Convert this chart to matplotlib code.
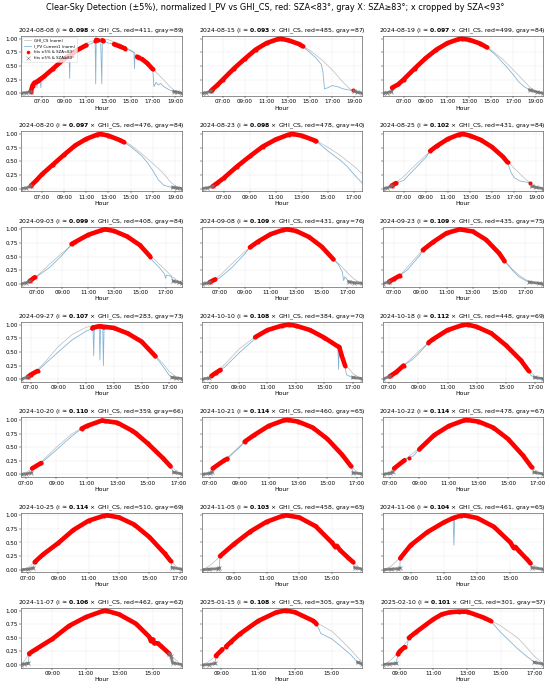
import numpy as np
import matplotlib
matplotlib.use("Agg")
import matplotlib.pyplot as plt
from matplotlib.lines import Line2D
from matplotlib.ticker import MultipleLocator, FuncFormatter, FormatStrFormatter

# one entry per panel
DATES = ["2024-08-08", "2024-08-15", "2024-08-19",
         "2024-08-20", "2024-08-23", "2024-08-25",
         "2024-09-03", "2024-09-08", "2024-09-23",
         "2024-09-27", "2024-10-10", "2024-10-18",
         "2024-10-20", "2024-10-21", "2024-10-22",
         "2024-10-25", "2024-11-05", "2024-11-06",
         "2024-11-07", "2025-01-15", "2025-02-10"]
SLOPES = [0.098, 0.093, 0.097, 0.097, 0.098, 0.102, 0.099, 0.109, 0.109,
          0.107, 0.108, 0.112, 0.110, 0.114, 0.114, 0.114, 0.103, 0.104,
          0.106, 0.108, 0.101]
RED_N = [411, 485, 499, 476, 478, 431, 408, 431, 435, 283, 384, 448,
         359, 460, 478, 510, 458, 461, 462, 305, 301]
GRAY_N = [89, 87, 84, 84, 40, 84, 84, 76, 75, 73, 70, 69, 66, 65, 67,
          69, 65, 65, 62, 53, 57]

# hour range of each panel
XLIMS = [(5.15, 19.6), (5.1, 19.75), (5.1, 19.7),
         (5.15, 19.6), (5.34, 17.64), (5.1, 19.6),
         (5.82, 18.23), (5.67, 18.15), (6.15, 18.32),
         (6.34, 17.89), (6.41, 17.66), (6.57, 17.52),
         (6.7, 17.23), (6.48, 17.36), (6.53, 17.35),
         (6.58, 17.12), (7.05, 16.86), (7.32, 16.95),
         (7.14, 16.74), (7.95, 16.65), (8.0, 17.5)]

# normalized clear-sky GHI, (hour, value)
GHI = [
    [(5.15, 0.0), (5.6, 0.02), (6.0, 0.08), (6.5, 0.17), (7, 0.27), (8, 0.47), (9, 0.65), (10, 0.8), (11, 0.92), (12, 0.99),
     (12.4, 1.0), (13, 0.98), (14, 0.91), (15, 0.79), (16, 0.63), (17, 0.45), (18, 0.24), (18.5, 0.13), (19, 0.04), (19.6, 0.0)],
    [(5.1, 0.0), (5.5, 0.01), (5.9, 0.05), (6.5, 0.15), (7, 0.25), (8, 0.45), (9, 0.63), (10, 0.8), (11, 0.92), (12, 0.99),
     (12.3, 1.0), (13, 0.97), (14, 0.9), (15, 0.78), (16, 0.62), (17, 0.43), (18, 0.2), (18.5, 0.1), (18.9, 0.05), (19.3, 0.02), (19.75, 0.0)],
    [(5.1, 0.0), (5.5, 0.01), (5.9, 0.05), (6.5, 0.16), (7, 0.25), (8, 0.45), (9, 0.64), (10, 0.8), (11, 0.92), (12, 0.99),
     (12.3, 1.0), (13, 0.98), (14, 0.91), (15, 0.79), (16, 0.63), (17, 0.43), (18, 0.22), (18.5, 0.11), (19, 0.04), (19.7, 0.0)],
    [(5.15, 0.0), (5.6, 0.02), (6.0, 0.06), (6.5, 0.15), (7, 0.26), (8, 0.45), (9, 0.63), (10, 0.8), (11, 0.92), (12, 0.99),
     (12.3, 1.0), (13, 0.98), (14, 0.91), (15, 0.8), (16, 0.64), (17, 0.46), (18, 0.27), (18.5, 0.14), (19, 0.05), (19.6, 0.0)],
    [(5.34, 0.0), (5.7, 0.01), (6.15, 0.05), (6.5, 0.1), (7, 0.19), (8, 0.4), (9, 0.59), (10, 0.77), (11, 0.9), (12, 0.99),
     (12.3, 1.0), (13, 0.97), (14, 0.89), (15, 0.76), (16, 0.6), (17, 0.41), (17.64, 0.27)],
    [(5.1, 0.0), (5.5, 0.01), (5.9, 0.05), (6.3, 0.11), (7, 0.22), (8, 0.42), (9, 0.61), (10, 0.78), (11, 0.91), (12, 0.99),
     (12.4, 1.0), (13, 0.98), (14, 0.9), (15, 0.77), (16, 0.59), (16.4, 0.5), (17, 0.37), (18, 0.18), (18.4, 0.11), (19, 0.03), (19.6, 0.0)],
    [(5.82, 0.0), (6.2, 0.02), (6.45, 0.05), (7, 0.14), (8, 0.36), (9, 0.57), (10, 0.76), (11, 0.9), (12, 0.98), (12.3, 1.0),
     (13, 0.97), (14, 0.87), (15, 0.71), (15.8, 0.52), (16.5, 0.36), (17, 0.25), (17.5, 0.13), (18, 0.04), (18.23, 0.0)],
    [(5.67, 0.0), (6.0, 0.01), (6.27, 0.04), (6.67, 0.09), (7, 0.14), (8, 0.37), (9, 0.59), (10, 0.77), (11, 0.91), (12, 0.99),
     (12.3, 1.0), (13, 0.97), (14, 0.86), (15, 0.68), (15.9, 0.46), (16.5, 0.33), (17, 0.2), (17.5, 0.09), (18, 0.02), (18.15, 0.0)],
    [(6.15, 0.0), (6.6, 0.03), (7, 0.09), (7.5, 0.17), (8, 0.3), (9, 0.57), (10, 0.78), (11, 0.93), (12, 1.0), (13, 0.96),
     (14, 0.81), (15, 0.56), (15.4, 0.43), (16, 0.27), (16.5, 0.16), (17, 0.08), (17.5, 0.03), (18, 0.01), (18.32, 0.0)],
    [(6.34, 0.0), (6.8, 0.04), (7, 0.08), (7.5, 0.17), (8, 0.3), (9, 0.6), (10, 0.82), (11, 0.95), (11.8, 1.0), (12.5, 0.99),
     (13, 0.96), (14, 0.85), (15, 0.68), (16, 0.43), (16.5, 0.3), (17, 0.14), (17.5, 0.04), (17.89, 0.0)],
    [(6.41, 0.0), (6.9, 0.03), (7.07, 0.07), (7.5, 0.15), (8, 0.27), (9, 0.55), (10, 0.75), (11, 0.91), (12, 0.99), (12.5, 1.0),
     (13, 0.98), (14, 0.9), (15, 0.76), (16, 0.59), (16.45, 0.28), (17, 0.1), (17.66, 0.0)],
    [(6.57, 0.0), (7.05, 0.05), (7.5, 0.13), (8, 0.25), (9, 0.5), (9.7, 0.67), (10, 0.73), (11, 0.9), (12, 0.99), (12.4, 1.0),
     (13, 0.96), (14, 0.84), (15, 0.62), (16, 0.35), (16.55, 0.16), (17, 0.05), (17.52, 0.0)],
    [(6.7, 0.0), (7.0, 0.03), (7.4, 0.11), (8, 0.23), (9, 0.5), (10, 0.74), (10.65, 0.85), (11, 0.9), (12, 0.99), (12.2, 1.0),
     (13, 0.95), (14, 0.81), (15, 0.58), (16, 0.3), (16.5, 0.15), (17, 0.04), (17.23, 0.0)],
    [(6.48, 0.0), (7.0, 0.04), (7.2, 0.1), (8, 0.26), (9, 0.51), (9.37, 0.6), (10, 0.72), (11, 0.89), (12, 0.99), (12.3, 1.0),
     (13, 0.97), (14, 0.86), (15, 0.65), (16, 0.36), (16.6, 0.15), (17, 0.05), (17.36, 0.0)],
    [(6.53, 0.0), (7.0, 0.04), (7.3, 0.11), (8, 0.27), (9, 0.48), (10, 0.72), (11, 0.89), (12, 0.99), (12.2, 1.0), (13, 0.97),
     (14, 0.86), (15, 0.65), (16, 0.35), (16.6, 0.13), (17, 0.04), (17.35, 0.0)],
    [(6.58, 0.0), (7.0, 0.03), (7.47, 0.15), (8, 0.28), (9, 0.5), (10, 0.74), (11, 0.9), (12, 0.99), (12.2, 1.0), (13, 0.96),
     (14, 0.83), (15, 0.6), (16, 0.3), (16.4, 0.16), (16.8, 0.05), (17.12, 0.0)],
    [(7.05, 0.0), (7.5, 0.07), (8.0, 0.2), (8.15, 0.25), (9, 0.47), (10, 0.7), (11, 0.88), (12, 0.99), (12.2, 1.0), (13, 0.96),
     (14, 0.8), (15, 0.5), (15.5, 0.36), (16, 0.22), (16.3, 0.14), (16.86, 0.0)],
    [(7.32, 0.0), (7.8, 0.06), (8.37, 0.22), (9, 0.45), (10, 0.69), (11, 0.87), (11.6, 0.96), (12, 0.99), (12.2, 1.0), (13, 0.95),
     (14, 0.79), (15, 0.5), (15.5, 0.35), (16, 0.19), (16.3, 0.1), (16.95, 0.0)],
    [(7.14, 0.01), (7.3, 0.07), (7.6, 0.21), (8, 0.3), (9, 0.49), (10, 0.72), (11, 0.88), (12, 0.99), (12.2, 1.0), (13, 0.93),
     (14, 0.76), (15, 0.5), (15.5, 0.36), (16, 0.21), (16.3, 0.12), (16.74, 0.0)],
    [(7.95, 0.0), (8.3, 0.06), (8.7, 0.17), (9, 0.27), (9.5, 0.41), (10, 0.56), (11, 0.81), (12, 0.97), (12.5, 1.0), (13, 0.97),
     (14, 0.81), (15, 0.62), (15.5, 0.46), (16, 0.29), (16.4, 0.14), (16.65, 0.05)],
    [(8.0, 0.0), (8.4, 0.07), (8.9, 0.22), (9.3, 0.38), (9.55, 0.48), (10, 0.6), (11, 0.84), (12, 0.97), (12.5, 1.0), (13, 0.98),
     (14, 0.88), (14.4, 0.82), (15, 0.72), (16, 0.5), (16.5, 0.34), (17, 0.16), (17.5, 0.03)],
]

# normalized I_PV Current1, (hour, value)
IPV = [
    [(5.15, 0.0), (5.6, 0.01), (6.0, 0.03), (6.15, 0.14), (6.3, 0.19), (6.5, 0.21), (6.55, 0.1), (6.6, 0.22), (6.85, 0.26),
     (6.9, 0.1), (6.95, 0.27), (7.2, 0.31), (8, 0.45), (9, 0.63), (9.45, 0.69), (9.5, 0.27), (9.55, 0.69), (10, 0.77),
     (11, 0.88), (11.5, 0.91), (11.8, 0.96), (11.85, 0.17), (11.9, 0.98), (12.05, 0.97), (12.3, 0.95), (12.4, 0.17),
     (12.45, 0.97), (12.55, 0.96), (13, 0.92), (13.5, 0.9), (14, 0.86), (14.5, 0.82), (15, 0.78), (15.3, 0.75),
     (15.35, 0.45), (15.4, 0.7), (15.6, 0.67), (15.8, 0.65), (16.0, 0.63), (16.5, 0.55), (17.0, 0.44), (17.1, 0.12),
     (17.3, 0.2), (17.5, 0.15), (17.7, 0.18), (18, 0.12), (18.5, 0.06), (18.9, 0.03), (19.2, 0.02), (19.6, 0.0)],
    [(5.1, 0.0), (5.5, 0.01), (5.9, 0.04), (6.0, 0.06), (6.5, 0.15), (7, 0.25), (8, 0.45), (9, 0.63), (10, 0.8), (11, 0.92),
     (12, 0.99), (12.3, 1.0), (13, 0.97), (14, 0.9), (14.3, 0.86), (15, 0.74), (15.5, 0.65), (16, 0.53), (16.15, 0.4),
     (16.3, 0.08), (16.6, 0.1), (17, 0.14), (17.5, 0.12), (18, 0.08), (18.5, 0.06), (18.9, 0.05), (19.0, 0.04),
     (19.3, 0.02), (19.75, 0.0)],
    [(5.1, 0.0), (5.5, 0.01), (5.9, 0.03), (5.95, 0.1), (6.5, 0.16), (7, 0.25), (8, 0.45), (9, 0.64), (10, 0.8), (11, 0.92),
     (12, 0.99), (12.3, 1.0), (13, 0.98), (14, 0.91), (14.6, 0.84), (15, 0.77), (15.5, 0.68), (16, 0.57), (16.5, 0.46),
     (17, 0.34), (17.5, 0.21), (18, 0.12), (18.5, 0.06), (19.2, 0.02), (19.7, 0.0)],
    [(5.15, 0.0), (5.6, 0.01), (6.0, 0.05), (6.5, 0.15), (7, 0.26), (8, 0.44), (9, 0.62), (10, 0.79), (11, 0.91), (12, 0.99),
     (12.3, 1.0), (13, 0.97), (14, 0.89), (14.4, 0.85), (15, 0.77), (16, 0.6), (16.5, 0.48), (17, 0.33), (17.5, 0.16),
     (18, 0.06), (18.5, 0.03), (18.8, 0.02), (19.2, 0.01), (19.6, 0.0)],
    [(5.34, 0.0), (5.7, 0.01), (6.15, 0.04), (6.5, 0.1), (7, 0.19), (8, 0.4), (9, 0.59), (10, 0.77), (11, 0.9), (12, 0.99),
     (12.3, 1.0), (13, 0.97), (14, 0.88), (14.1, 0.87), (15, 0.69), (16, 0.51), (16.5, 0.4), (17, 0.26), (17.64, 0.1)],
    [(5.1, 0.0), (5.5, 0.01), (5.9, 0.05), (6.3, 0.1), (7, 0.15), (8, 0.36), (9, 0.57), (9.4, 0.69), (10, 0.78), (11, 0.91),
     (12, 0.99), (12.4, 1.0), (13, 0.97), (14, 0.89), (15, 0.76), (16, 0.58), (16.4, 0.48), (16.7, 0.3), (17, 0.2),
     (17.5, 0.14), (18, 0.12), (18.4, 0.11), (18.6, 0.04), (19, 0.02), (19.6, 0.0)],
    [(5.82, 0.0), (6.2, 0.02), (6.45, 0.05), (6.85, 0.12), (7, 0.13), (8, 0.3), (9, 0.53), (9.7, 0.73), (10, 0.77), (11, 0.9),
     (12, 0.98), (12.3, 1.0), (13, 0.97), (14, 0.87), (15, 0.71), (15.8, 0.5), (16.0, 0.42), (16.5, 0.3), (16.9, 0.18),
     (17.0, 0.1), (17.05, 0.16), (17.4, 0.14), (17.6, 0.05), (18, 0.03), (18.23, 0.01)],
    [(5.67, 0.0), (6.0, 0.01), (6.27, 0.03), (6.67, 0.08), (7, 0.1), (8, 0.3), (9, 0.55), (9.4, 0.67), (10, 0.77), (11, 0.91),
     (12, 0.99), (12.3, 1.0), (13, 0.97), (14, 0.86), (15, 0.68), (15.9, 0.45), (16.3, 0.35), (16.6, 0.22), (16.7, 0.06),
     (16.8, 0.13), (16.9, 0.1), (17.1, 0.04), (17.5, 0.02), (18.15, 0.01)],
    [(6.15, 0.0), (6.63, 0.04), (7, 0.09), (7.45, 0.15), (8, 0.25), (9, 0.53), (9.2, 0.62), (10, 0.77), (11, 0.93), (12, 1.0),
     (13, 0.96), (14, 0.81), (15, 0.56), (15.4, 0.42), (16, 0.25), (16.5, 0.13), (17, 0.06), (17.3, 0.03), (18, 0.01), (18.32, 0.0)],
    [(6.34, 0.0), (6.8, 0.04), (7.0, 0.08), (7.5, 0.15), (8, 0.27), (9, 0.5), (10, 0.72), (11, 0.88), (11.45, 0.93),
     (11.5, 0.95), (11.55, 0.43), (11.6, 0.95), (11.95, 0.97), (12.0, 0.35), (12.05, 0.97), (12.2, 0.96), (12.25, 0.25),
     (12.3, 0.96), (13, 0.94), (14, 0.84), (15, 0.69), (16, 0.42), (16.5, 0.25), (17, 0.07), (17.2, 0.03), (17.5, 0.02), (17.89, 0.01)],
    [(6.41, 0.0), (6.9, 0.02), (7.07, 0.06), (7.4, 0.12), (7.7, 0.17), (8, 0.22), (9, 0.48), (10, 0.71), (10.14, 0.77),
     (11, 0.9), (12, 0.98), (12.5, 1.0), (13, 0.98), (14, 0.9), (15, 0.76), (15.95, 0.6), (16.0, 0.18), (16.05, 0.59),
     (16.2, 0.45), (16.45, 0.25), (16.55, 0.08), (16.8, 0.05), (17.0, 0.03), (17.66, 0.01)],
    [(6.57, 0.0), (7.05, 0.05), (7.5, 0.13), (8, 0.25), (8.5, 0.34), (9, 0.46), (9.7, 0.67), (10, 0.73), (11, 0.9), (12, 0.99),
     (12.4, 1.0), (13, 0.96), (14, 0.84), (15, 0.62), (16, 0.35), (16.55, 0.15), (16.7, 0.07), (16.95, 0.03), (17.52, 0.01)],
    [(6.7, 0.0), (7.0, 0.01), (7.35, 0.03), (7.4, 0.11), (8, 0.21), (9, 0.45), (10, 0.7), (10.65, 0.84), (11, 0.89), (12, 0.99),
     (12.2, 0.98), (13, 0.95), (14, 0.8), (14.2, 0.76), (15, 0.57), (16, 0.3), (16.5, 0.15), (16.7, 0.04), (17.23, 0.01)],
    [(6.48, 0.0), (7.0, 0.02), (7.15, 0.04), (7.2, 0.11), (8, 0.26), (8.2, 0.29), (9, 0.49), (9.37, 0.6), (10, 0.72), (11, 0.89),
     (12, 0.99), (12.3, 1.0), (13, 0.97), (14, 0.86), (15, 0.65), (16, 0.36), (16.6, 0.15), (16.75, 0.03), (17.36, 0.01)],
    [(6.53, 0.0), (7.0, 0.02), (7.2, 0.04), (7.3, 0.11), (8, 0.26), (8.3, 0.31), (8.6, 0.34), (9, 0.46), (10, 0.72), (11, 0.89),
     (12, 0.99), (12.2, 1.0), (13, 0.97), (14, 0.86), (15, 0.65), (16, 0.35), (16.6, 0.13), (16.75, 0.04), (17.35, 0.01)],
    [(6.58, 0.0), (7.0, 0.01), (7.35, 0.03), (7.45, 0.14), (8, 0.28), (9, 0.49), (10, 0.73), (11, 0.9), (12, 0.99), (12.2, 1.0),
     (13, 0.96), (14, 0.83), (15, 0.6), (16, 0.3), (16.4, 0.16), (16.5, 0.04), (17.12, 0.01)],
    [(7.05, 0.0), (7.5, 0.01), (8.0, 0.02), (8.1, 0.03), (8.15, 0.25), (9, 0.47), (10, 0.7), (11, 0.88), (12, 0.99), (12.2, 1.0),
     (13, 0.96), (14, 0.8), (15, 0.5), (15.2, 0.42), (15.3, 0.44), (15.5, 0.36), (16, 0.22), (16.3, 0.14), (16.4, 0.04), (16.86, 0.01)],
    [(7.32, 0.0), (7.8, 0.01), (8.26, 0.02), (8.35, 0.03), (8.37, 0.21), (9, 0.45), (10, 0.69), (11, 0.87), (11.55, 0.95),
     (11.6, 0.45), (11.65, 0.96), (12, 0.99), (12.2, 1.0), (13, 0.95), (14, 0.79), (15, 0.5), (15.2, 0.4), (15.3, 0.42),
     (15.5, 0.35), (16, 0.19), (16.2, 0.12), (16.3, 0.04), (16.95, 0.01)],
    [(7.14, 0.01), (7.3, 0.02), (7.55, 0.03), (7.6, 0.21), (8, 0.29), (9, 0.48), (10, 0.72), (11, 0.88), (12, 0.99), (12.2, 1.0),
     (13, 0.93), (14, 0.76), (14.8, 0.52), (14.9, 0.44), (15.0, 0.47), (15.1, 0.4), (15.3, 0.4), (15.5, 0.35), (16, 0.21),
     (16.1, 0.17), (16.2, 0.04), (16.74, 0.01)],
    [(7.95, 0.0), (8.3, 0.01), (8.65, 0.03), (8.7, 0.17), (9, 0.27), (9.05, 0.29), (9.25, 0.34), (9.5, 0.42), (10, 0.57),
     (11, 0.81), (12, 0.97), (12.5, 1.0), (13, 0.97), (14, 0.81), (14.16, 0.76), (14.4, 0.58), (15, 0.48), (15.5, 0.34),
     (16, 0.2), (16.4, 0.05), (16.65, 0.02)],
    [(8.0, 0.01), (8.4, 0.02), (8.8, 0.03), (8.9, 0.2), (9.0, 0.25), (9.3, 0.33), (9.45, 0.35), (9.55, 0.5), (10, 0.61),
     (11, 0.84), (11.5, 0.93), (12, 0.97), (12.5, 0.98), (13, 0.98), (14, 0.87), (14.4, 0.81), (15, 0.6), (15.5, 0.45),
     (16, 0.3), (16.5, 0.17), (17, 0.05), (17.5, 0.02)],
]

# hour spans where I_PV fits GHI_CS within 5% and SZA<83
RED_SPANS = [
    [(6.0, 6.5), (6.6, 6.85), (6.95, 9.45), (9.55, 11.2), (11.8, 11.8), (11.9, 12.05), (12.45, 12.55),
     (13.4, 14.7), (15.5, 15.8), (16.0, 17.0)],
    [(5.9, 14.3), (18.9, 18.9)],
    [(5.95, 14.6)],
    [(6.0, 14.4)],
    [(6.15, 14.1)],
    [(5.9, 6.3), (9.4, 16.4), (18.4, 18.4)],
    [(6.45, 6.85), (9.7, 15.8)],
    [(6.27, 6.67), (9.4, 15.9)],
    [(6.63, 7.45), (9.2, 15.4)],
    [(6.8, 7.5), (11.45, 11.5), (11.6, 11.95), (12.05, 12.2), (12.3, 16.0)],
    [(7.07, 7.7), (10.14, 15.95), (16.05, 16.45)],
    [(7.05, 8.0), (9.7, 16.55)],
    [(7.4, 8.0), (10.65, 16.5)],
    [(7.2, 8.2), (9.37, 16.6)],
    [(7.3, 8.0), (8.3, 8.3), (9.0, 16.6)],
    [(7.45, 16.4)],
    [(8.15, 16.3)],
    [(8.37, 11.55), (11.65, 16.2)],
    [(7.6, 16.0)],
    [(8.7, 9.05), (9.25, 14.16)],
    [(8.9, 9.3), (9.55, 14.4)],
]

# SZA>=83: points before the first hour and after the second
GRAY_EDGES = [(6.0, 18.9), (5.9, 19.0), (5.9, 18.5), (6.0, 18.8), (6.15, 99),
              (5.9, 18.6), (6.45, 17.6), (6.27, 17.1), (6.63, 17.3), (6.8, 17.2),
              (6.9, 17.0), (7.05, 16.95), (7.35, 16.7), (7.15, 16.75), (7.2, 16.75),
              (7.35, 16.5), (8.1, 16.4), (8.35, 16.3), (7.55, 16.0), (8.65, 16.4),
              (8.8, 17.0)]

fig, axes = plt.subplots(7, 3, figsize=(15, 18.873), sharey=True)
fig.subplots_adjust(left=0.039, right=0.987, top=0.948, bottom=0.035,
                    wspace=0.128, hspace=0.59)

for i, ax in enumerate(axes.flat):
    gt, gv = np.array(GHI[i]).T
    pt, pv = np.array(IPV[i]).T
    ax.plot(gt, gv, color="0.72", lw=1.3, zorder=2)
    ax.plot(pt, pv, color="tab:blue", alpha=0.55, lw=1.6, zorder=3)

    for t0, t1 in RED_SPANS[i]:
        m = (pt >= t0 - 1e-6) & (pt <= t1 + 1e-6)
        ax.plot(pt[m], pv[m], color="red", lw=9, marker="o", ms=8,
                mew=0, solid_capstyle="round", zorder=4)

    left, right = GRAY_EDGES[i]
    for m in (pt <= left + 1e-6, pt >= right - 1e-6):
        if m.sum() > 0:
            ax.plot(pt[m], pv[m], color="0.45", lw=5.5, alpha=0.85,
                    marker="x", ms=7, mew=1.5, zorder=5)

    ax.set_xlim(*XLIMS[i])
    ax.set_ylim(-0.05, 1.05)
    ax.xaxis.set_major_locator(MultipleLocator(2, offset=1))
    ax.xaxis.set_major_formatter(FuncFormatter(lambda h, _: f"{int(round(h)):02d}:00"))
    ax.set_yticks([0, 0.25, 0.5, 0.75, 1.0])
    ax.yaxis.set_major_formatter(FormatStrFormatter("%.2f"))
    ax.tick_params(labelsize=11)
    for sp in ax.spines.values():
        sp.set_linewidth(1.2)
        sp.set_color("0.3")
    ax.grid(True, alpha=0.3)
    ax.set_xlabel("Hour", fontsize=12, labelpad=2)
    ax.set_title(f"{DATES[i]} (i \u2248 $\\mathbf{{{SLOPES[i]:.3f}}}$ \u00d7 GHI_CS, "
                 f"red={RED_N[i]}, gray={GRAY_N[i]})", fontsize=12)

handles = [Line2D([], [], color="0.72", lw=1.3),
           Line2D([], [], color="tab:blue", alpha=0.55, lw=1.6),
           Line2D([], [], color="red", ls="", marker="o", ms=6),
           Line2D([], [], color="0.45", ls="", marker="x", ms=6)]
labels = ["GHI_CS (norm)", "I_PV Current1 (norm)",
          "fits \u00b15% & SZA<83\u00b0", "fits \u00b15% & SZA\u226583\u00b0"]
axes[0, 0].legend(handles, labels, loc="upper left", fontsize=7.5, borderaxespad=0.2)

fig.suptitle("Clear-Sky Detection (\u00b15%), normalized I_PV vs GHI_CS, red: SZA<83\u00b0, "
             "gray X: SZA\u226583\u00b0; x cropped by SZA<93\u00b0", fontsize=16, y=0.995)

fig.savefig("out.png", dpi=550 / 15)
